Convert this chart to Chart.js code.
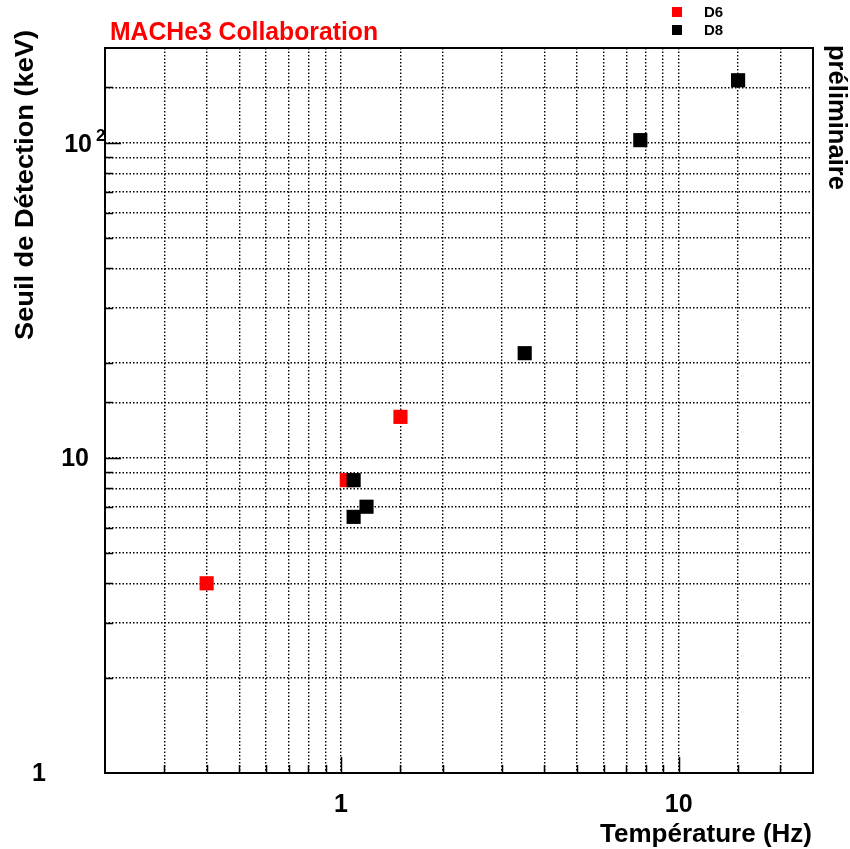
<!DOCTYPE html>
<html>
<head>
<meta charset="utf-8">
<script src="https://cdn.jsdelivr.net/npm/chart.js@4.4.0/dist/chart.umd.min.js"></script>
<style>
  body { margin: 0; background: #fff; }
  #wrap { width: 850px; height: 849px; }
</style>
</head>
<body>
<div id="wrap"><canvas id="seuil" width="850" height="849"></canvas></div>
<script>
// data
var d6Freq  = [0.40, 1.04, 1.50];
var d6Seuil = [4.0, 8.5, 13.5];
var d8Freq  = [1.09, 1.09, 1.19, 3.50, 7.7, 15.0];
var d8Seuil = [8.5, 6.5, 7.0, 21.5, 102, 158];
var xTickLabels = [1, 10];
var yTickLabels = [1, 10, 100];

var FONT = "'Liberation Sans', Arial, sans-serif";

function toPoints(xs, ys){
	var pts = [];
	for(var i = 0; i < xs.length; i++){
		pts.push({x: xs[i], y: ys[i]});
	}
	return pts;
}
function isLabel(list, v){
	for(var i = 0; i < list.length; i++){
		if(Math.abs(list[i] - v) < 1e-9) return true;
	}
	return false;
}
function isPow10(v){
	var l = Math.log10(v);
	return Math.abs(l - Math.round(l)) < 1e-9;
}
// draw text stretched to a given width (root fonts are wider than liberation)
function fitText(ctx, text, x, y, width, align){
	var w = ctx.measureText(text).width;
	var k = width / w;
	ctx.save();
	ctx.translate(x, y);
	ctx.scale(k, 1);
	ctx.textAlign = align;
	ctx.fillText(text, 0, 0);
	ctx.restore();
}

var rootPlugin = {
	id: "rootLook",
	afterDraw: function(chart){
		var ctx = chart.ctx, a = chart.chartArea;
		var xs = chart.scales.x, ys = chart.scales.y;
		ctx.save();
		// inward tick marks
		ctx.strokeStyle = "#000";
		ctx.lineWidth = 1.5;
		ctx.beginPath();
		xs.ticks.forEach(function(t){
			var px = Math.round(xs.getPixelForValue(t.value)) + 0.5;
			if(px <= a.left + 1 || px >= a.right - 1) return;
			var len = isPow10(t.value) ? 16 : 8;
			ctx.moveTo(px, a.bottom);
			ctx.lineTo(px, a.bottom - len);
		});
		ys.ticks.forEach(function(t){
			var py = Math.round(ys.getPixelForValue(t.value)) + 0.5;
			if(py <= a.top + 1 || py >= a.bottom - 1) return;
			var len = isPow10(t.value) ? 16 : 8;
			ctx.moveTo(a.left, py);
			ctx.lineTo(a.left + len, py);
		});
		ctx.stroke();
		// frame
		ctx.lineWidth = 2;
		ctx.strokeRect(a.left, a.top, a.right - a.left, a.bottom - a.top);

		// y tick labels
		ctx.fillStyle = "#000";
		ctx.font = "bold 25px " + FONT;
		ctx.textBaseline = "middle";
		yTickLabels.forEach(function(v){
			var py = ys.getPixelForValue(v);
			if(v === 1){
				ctx.textAlign = "center";
				ctx.fillText("1", 39, py + 1);
			} else if(v === 10){
				ctx.textAlign = "right";
				ctx.fillText("10", 89, py + 1);
			} else {
				ctx.textAlign = "right";
				ctx.fillText("10", 92, py + 2);
				ctx.font = "bold 17px " + FONT;
				ctx.textAlign = "left";
				ctx.fillText("2", 96, py - 7);
				ctx.font = "bold 25px " + FONT;
			}
		});

		// title
		ctx.fillStyle = "#ff0000";
		ctx.font = "bold 25px " + FONT;
		ctx.textBaseline = "alphabetic";
		fitText(ctx, "MACHe3 Collaboration", 110, 40, 268, "left");

		// legend
		ctx.font = "bold 15px " + FONT;
		ctx.textAlign = "left";
		ctx.textBaseline = "middle";
		chart.data.datasets.forEach(function(ds, i){
			var ly = 12 + i * 18;
			ctx.fillStyle = ds.backgroundColor;
			ctx.fillRect(672, ly - 5, 10, 10);
			ctx.fillStyle = "#000";
			ctx.fillText(ds.label, 704, ly + 1);
		});

		// axis titles
		ctx.fillStyle = "#000";
		ctx.font = "bold 25px " + FONT;
		ctx.textBaseline = "alphabetic";
		fitText(ctx, "Température (Hz)", 812, 842, 212, "right");

		ctx.save();
		ctx.translate(33, 30);
		ctx.rotate(-Math.PI / 2);
		fitText(ctx, "Seuil de Détection (keV)", 0, 0, 310, "right");
		ctx.restore();

		ctx.save();
		ctx.translate(829, 45);
		ctx.rotate(Math.PI / 2);
		fitText(ctx, "préliminaire", 0, 0, 145, "left");
		ctx.restore();

		ctx.restore();
	}
};

var ctx = document.getElementById("seuil").getContext("2d");
var chart = new Chart(ctx, {
	type: "scatter",
	data: {
		datasets: [
			{
				label: "D6",
				data: toPoints(d6Freq, d6Seuil),
				backgroundColor: "#ff0000",
				borderWidth: 0,
				pointStyle: "rect",
				pointRadius: 10,
				order: 1
			},
			{
				label: "D8",
				data: toPoints(d8Freq, d8Seuil),
				backgroundColor: "#000000",
				borderWidth: 0,
				pointStyle: "rect",
				pointRadius: 10,
				order: 0
			}
		]
	},
	options: {
		responsive: false,
		animation: false,
		events: [],
		layout: { padding: { top: 48, right: 37, left: 0, bottom: 0 } },
		plugins: {
			legend: { display: false },
			tooltip: { enabled: false }
		},
		scales: {
			x: {
				type: "logarithmic",
				min: 0.2,
				max: 25,
				grid: { color: "#000", lineWidth: 1.4, drawTicks: false },
				border: { display: false, dash: [1.5, 2] },
				ticks: {
					autoSkip: false,
					maxRotation: 0,
					padding: 17,
					color: "#000",
					font: { family: FONT, size: 25, weight: "bold" },
					callback: function(v){ return isLabel(xTickLabels, v) ? String(Math.round(v)) : ""; }
				},
				afterFit: function(s){ s.height = 76; }
			},
			y: {
				type: "logarithmic",
				min: 1,
				max: 200,
				grid: { color: "#000", lineWidth: 1.4, drawTicks: false },
				border: { display: false, dash: [1.5, 2] },
				ticks: {
					autoSkip: false,
					display: false
				},
				afterFit: function(s){ s.width = 105; }
			}
		}
	},
	plugins: [rootPlugin]
});
</script>
</body>
</html>
